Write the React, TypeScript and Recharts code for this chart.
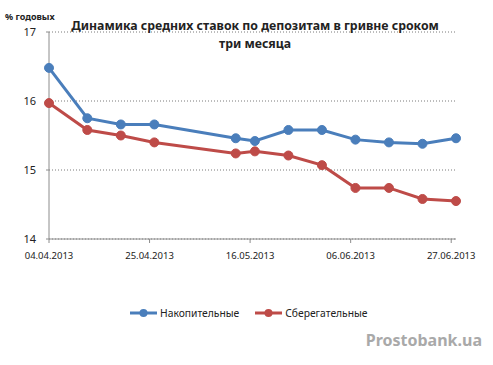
import React from 'react';
import { LineChart, Line, XAxis, YAxis, CartesianGrid } from 'recharts';

// Weekly average rates, 3-month hryvnia deposits
const dates = [
  '04.04.2013', '12.04.2013', '19.04.2013', '26.04.2013', '13.05.2013', '17.05.2013',
  '24.05.2013', '31.05.2013', '07.06.2013', '14.06.2013', '21.06.2013', '28.06.2013',
];
const nakopitelnye = [16.48, 15.75, 15.66, 15.66, 15.46, 15.42, 15.58, 15.58, 15.44, 15.4, 15.38, 15.46];
const sberegatelnye = [15.97, 15.58, 15.5, 15.4, 15.24, 15.27, 15.21, 15.07, 14.74, 14.74, 14.58, 14.55];
const tickDates = ['04.04.2013', '25.04.2013', '16.05.2013', '06.06.2013', '27.06.2013'];
const yTicks = [14, 15, 16, 17];

const BLUE = '#4a7ebb';
const RED = '#be4b48';
const FONT = '"Noto Sans", "Open Sans", sans-serif';

const toDay = (s: string) => {
  const [d, m, y] = s.split('.').map(Number);
  return (Date.UTC(y, m - 1, d) - Date.UTC(2013, 3, 4)) / 86400000;
};

const data = dates.map((d, i) => ({
  day: toDay(d),
  nak: nakopitelnye[i],
  sber: sberegatelnye[i],
}));

const tickDays = tickDates.map(toDay);
const labelFor = (v: number) => tickDates[tickDays.indexOf(v)] ?? '';

const LegendItem = ({ color, label }: { color: string; label: string }) => (
  <div style={{ display: 'flex', alignItems: 'center', marginRight: 16 }}>
    <svg width={28} height={10} style={{ marginRight: 2 }}>
      <line x1={0} y1={5} x2={27} y2={5} stroke={color} strokeWidth={3} />
      <circle cx={13.5} cy={5} r={4} fill={color} />
    </svg>
    <span>{label}</span>
  </div>
);

const App: React.FC = () => {
  return (
    <div
      style={{
        position: 'absolute',
        left: 0,
        top: 0,
        width: 493,
        height: 365,
        background: '#fff',
        fontFamily: FONT,
        color: '#222',
      }}
    >
      <LineChart
        width={493}
        height={365}
        data={data}
        margin={{ top: 32, right: 37, left: 0, bottom: 96 }}
      >
        <CartesianGrid vertical={false} strokeDasharray="1 2" stroke="#7a7a7a" />
        <XAxis
          dataKey="day"
          type="number"
          domain={[0, 85]}
          ticks={tickDays}
          tickFormatter={labelFor}
          height={30}
          tickSize={4}
          tickMargin={9}
          interval={0}
          stroke="#8c8c8c"
          tick={{ fontSize: 9.5, fill: '#222', fontFamily: FONT }}
        />
        <YAxis
          domain={[14, 17]}
          ticks={yTicks}
          width={49}
          tickSize={3}
          tickMargin={10}
          stroke="#8c8c8c"
          tick={{ fontSize: 11, fill: '#222', fontFamily: FONT }}
        />
        <Line
          dataKey="nak"
          stroke={BLUE}
          strokeWidth={3}
          dot={{ r: 4.5, fill: BLUE, stroke: BLUE, strokeWidth: 1 }}
          isAnimationActive={false}
        />
        <Line
          dataKey="sber"
          stroke={RED}
          strokeWidth={3}
          dot={{ r: 4.5, fill: RED, stroke: RED, strokeWidth: 1 }}
          isAnimationActive={false}
        />
      </LineChart>

      <div style={{ position: 'absolute', left: 5, top: 10, fontSize: 9, fontWeight: 700 }}>
        % годовых
      </div>

      <div
        style={{
          position: 'absolute',
          left: 55,
          width: 400,
          top: 17,
          textAlign: 'center',
          fontSize: 12.3,
          fontWeight: 700,
          lineHeight: '18px',
        }}
      >
        Динамика средних ставок по депозитам в гривне сроком
        <br />
        три месяца
      </div>

      <div
        style={{
          position: 'absolute',
          left: 130,
          top: 306,
          display: 'flex',
          fontSize: 10.3,
        }}
      >
        <LegendItem color={BLUE} label="Накопительные" />
        <LegendItem color={RED} label="Сберегательные" />
      </div>

      <div
        style={{
          position: 'absolute',
          right: 11,
          top: 329,
          fontSize: 16,
          fontWeight: 700,
          color: '#a9a9a9',
        }}
      >
        Prostobank.ua
      </div>
    </div>
  );
};

export default App;
